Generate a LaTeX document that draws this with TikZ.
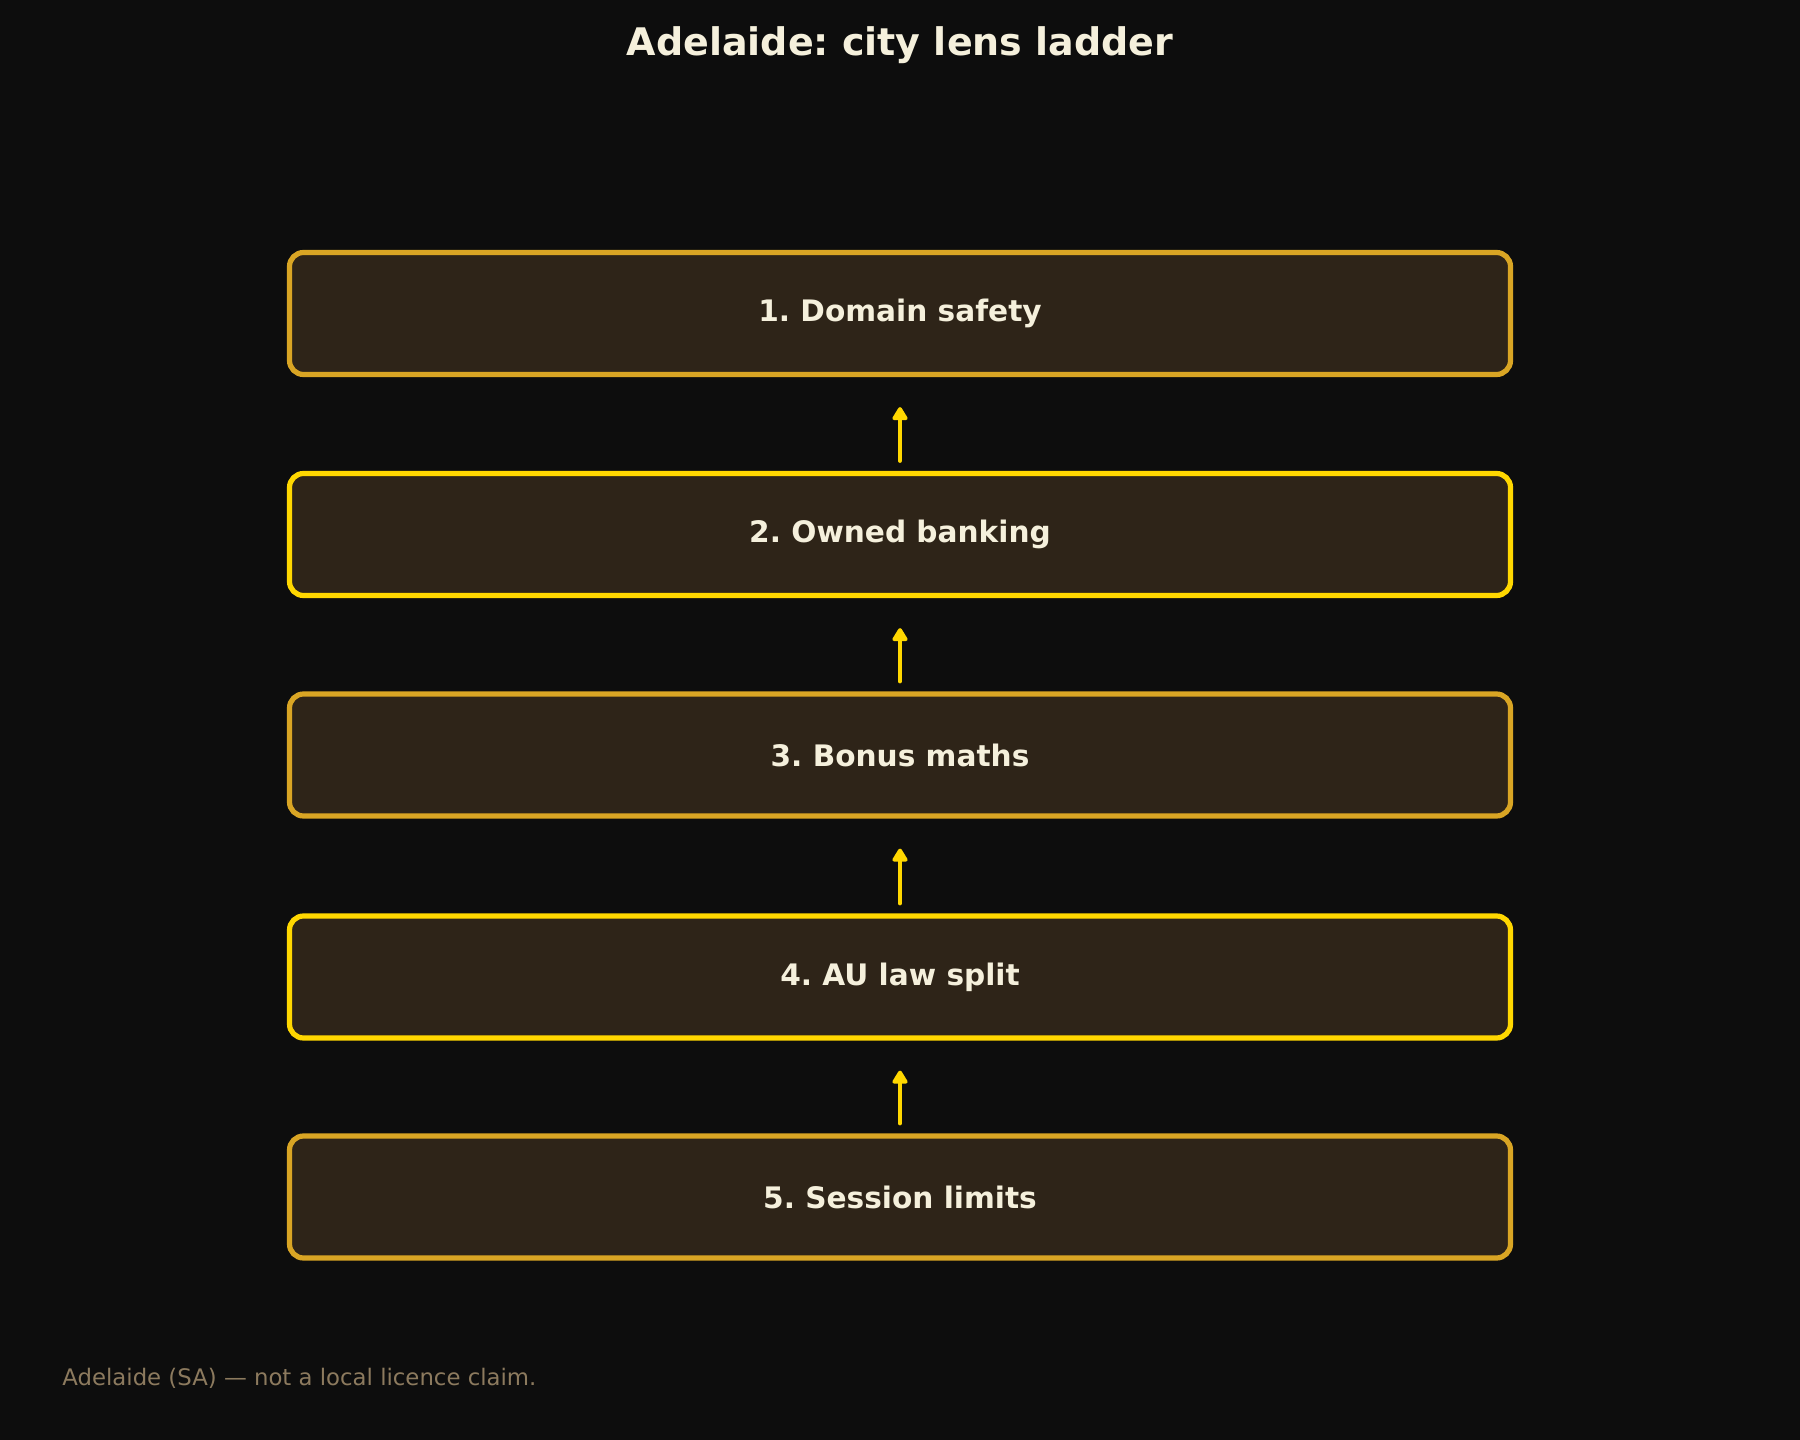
\documentclass[tikz,border=0pt]{standalone}
\usepackage{fontspec}
\setmainfont{DejaVu Sans}
\usetikzlibrary{arrows.meta}
\definecolor{bg}{HTML}{0D0D0D}
\definecolor{boxfill}{HTML}{2E2418}
\definecolor{goldrod}{HTML}{D9A524}
\definecolor{brightgold}{HTML}{FFD700}
\definecolor{cream}{HTML}{F5F0DC}
\definecolor{muted}{HTML}{8C7A5E}
\frenchspacing
\begin{document}
\begin{tikzpicture}[x=0.5pt,y=-0.5pt,
  stepbox/.style={draw, fill=boxfill, line width=2.6pt, rounded corners=7pt,
    minimum width=610.5pt, minimum height=61pt, inner sep=0pt,
    text=cream, font=\bfseries\fontsize{14.8}{18}\selectfont},
  goldbox/.style={stepbox, draw=goldrod},
  yellowbox/.style={stepbox, draw=brightgold},
  arr/.style={draw=brightgold, line width=2pt, line cap=round,
    -{Triangle[length=7.5pt,width=8.5pt,round]}, shorten <=5pt, shorten >=15pt}
]
\fill[bg] (0,0) rectangle (1800,1440);
\useasboundingbox (0,0) rectangle (1800,1440);
\node[text=cream, font=\bfseries\fontsize{19}{23}\selectfont] (title) at (900,45) {Adelaide: city lens ladder};
\node[goldbox] (b1) at (900,313.5) {1. Domain safety};
\node[yellowbox] (b2) at (900,534.5) {2. Owned banking};
\node[goldbox] (b3) at (900,755) {3. Bonus maths};
\node[yellowbox] (b4) at (900,977) {4. AU law split};
\node[goldbox] (b5) at (900,1197) {5. Session limits};
\draw[arr] (b2.north) -- (b1.south);
\draw[arr] (b3.north) -- (b2.south);
\draw[arr] (b4.north) -- (b3.south);
\draw[arr] (b5.north) -- (b4.south);
\node[anchor=west, inner sep=0pt, text=muted, font=\fontsize{11.4}{13}\selectfont] (foot) at (62,1378) {Adelaide (SA) — not a local licence claim.};
\end{tikzpicture}
\end{document}
